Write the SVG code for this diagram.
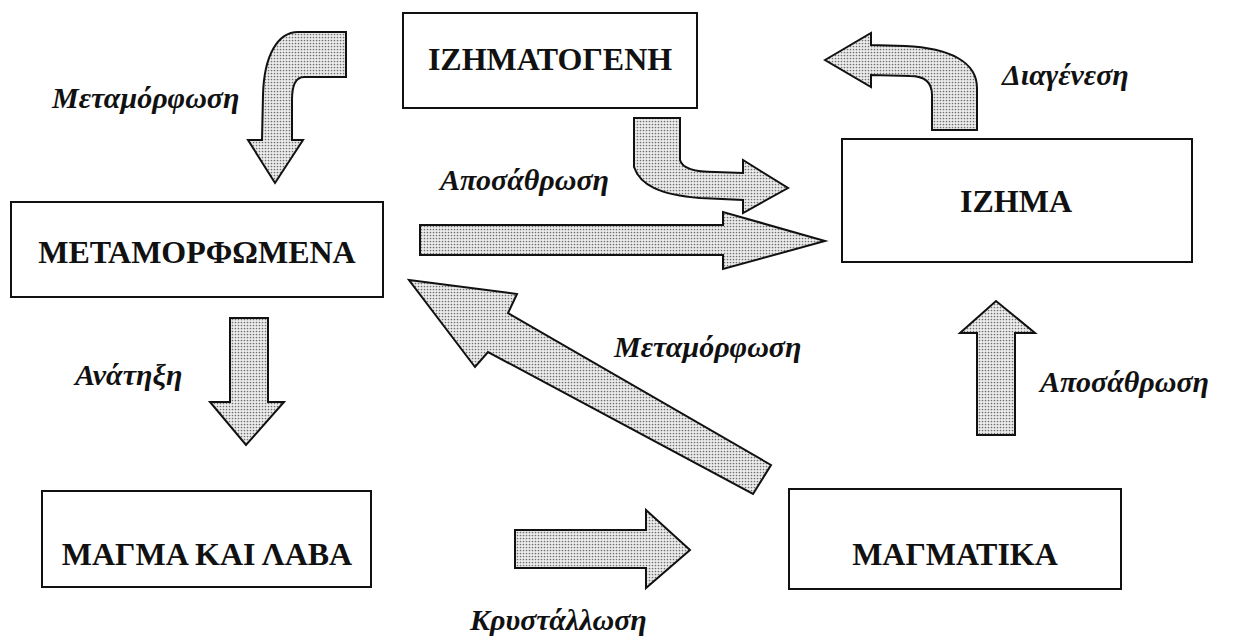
<svg xmlns="http://www.w3.org/2000/svg" width="1233" height="637" viewBox="0 0 1233 637">
<defs>
<pattern id="dots" width="3" height="3" patternUnits="userSpaceOnUse">
<rect width="3" height="3" fill="#ececec"/>
<circle cx="1.5" cy="1.5" r="0.85" fill="#707070"/>
</pattern>
</defs>
<style>
.box{fill:#fff;stroke:#111;stroke-width:2}
.bt{font-family:"Liberation Serif","DejaVu Serif",serif;font-weight:bold;font-size:32px;fill:#111;text-anchor:middle}
.lb{font-family:"Liberation Serif","DejaVu Serif",serif;font-weight:bold;font-style:italic;font-size:30px;fill:#111}
.arr{fill:url(#dots);stroke:#111;stroke-width:2;stroke-linejoin:miter}
</style>
<rect width="1233" height="637" fill="#fff"/>
<g id="connectors">
<path class="arr" d="M346,32 L298,32 C278,32 264,55 263,95 L262,140 L248,140 L275,183 L303,140 L292,140 L292,100 C292,85 296,77 304,77 L346,77 Z"/>
<path class="arr" d="M634,118 L680,118 L680,160 C682,168 695,172 715,172 L743,173 L743,160 L788,188 L743,213 L743,200 L700,198 C660,195 640,185 634,167 Z"/>
<path class="arr" d="M825,60 L871,33 L871,45 L905,46 C950,48 977,62 977,88 L977,130 L932,130 L932,95 C932,82 925,76 910,76 L871,75 L871,87 Z"/>
<path class="arr" d="M420,225 L723,225 L723,212 L825,241 L723,269 L723,255 L420,255 Z"/>
<path class="arr" d="M230,318 L268,318 L268,402 L284,402 L246,445 L210,402 L230,402 Z"/>
<path class="arr" d="M977,435 L977,333 L960,333 L996,301 L1035,333 L1015,333 L1015,435 Z"/>
<path class="arr" d="M515,530 L646,530 L646,510 L690,550 L646,588 L646,568 L515,568 Z"/>
<path class="arr" d="M409,280 L517,294 L508,313 L771,465 L753,494 L488,352 L475,367 Z"/>
<text class="lb" x="52" y="108">Μεταμόρφωση</text>
<text class="lb" x="440" y="190">Αποσάθρωση</text>
<text class="lb" x="1002" y="85">Διαγένεση</text>
<text class="lb" x="614" y="357">Μεταμόρφωση</text>
<text class="lb" x="75" y="385">Ανάτηξη</text>
<text class="lb" x="1040" y="392">Αποσάθρωση</text>
<text class="lb" x="470" y="630">Κρυστάλλωση</text>
</g>
<g id="n-izhmatogenh">
<rect class="box" x="403" y="13" width="294" height="95"/>
<text class="bt" x="550" y="70">ΙΖΗΜΑΤΟΓΕΝΗ</text>
</g>
<g id="n-izhma">
<rect class="box" x="842" y="139" width="350" height="123"/>
<text class="bt" x="1016" y="212">ΙΖΗΜΑ</text>
</g>
<g id="n-metamorfomena">
<rect class="box" x="11" y="202" width="372" height="95"/>
<text class="bt" x="197" y="263">ΜΕΤΑΜΟΡΦΩΜΕΝΑ</text>
</g>
<g id="n-magma">
<rect class="box" x="42" y="491" width="329" height="96"/>
<text class="bt" x="207" y="565">ΜΑΓΜΑ ΚΑΙ ΛΑΒΑ</text>
</g>
<g id="n-magmatika">
<rect class="box" x="789" y="489" width="332" height="100"/>
<text class="bt" x="955" y="565">ΜΑΓΜΑΤΙΚΑ</text>
</g>
</svg>
